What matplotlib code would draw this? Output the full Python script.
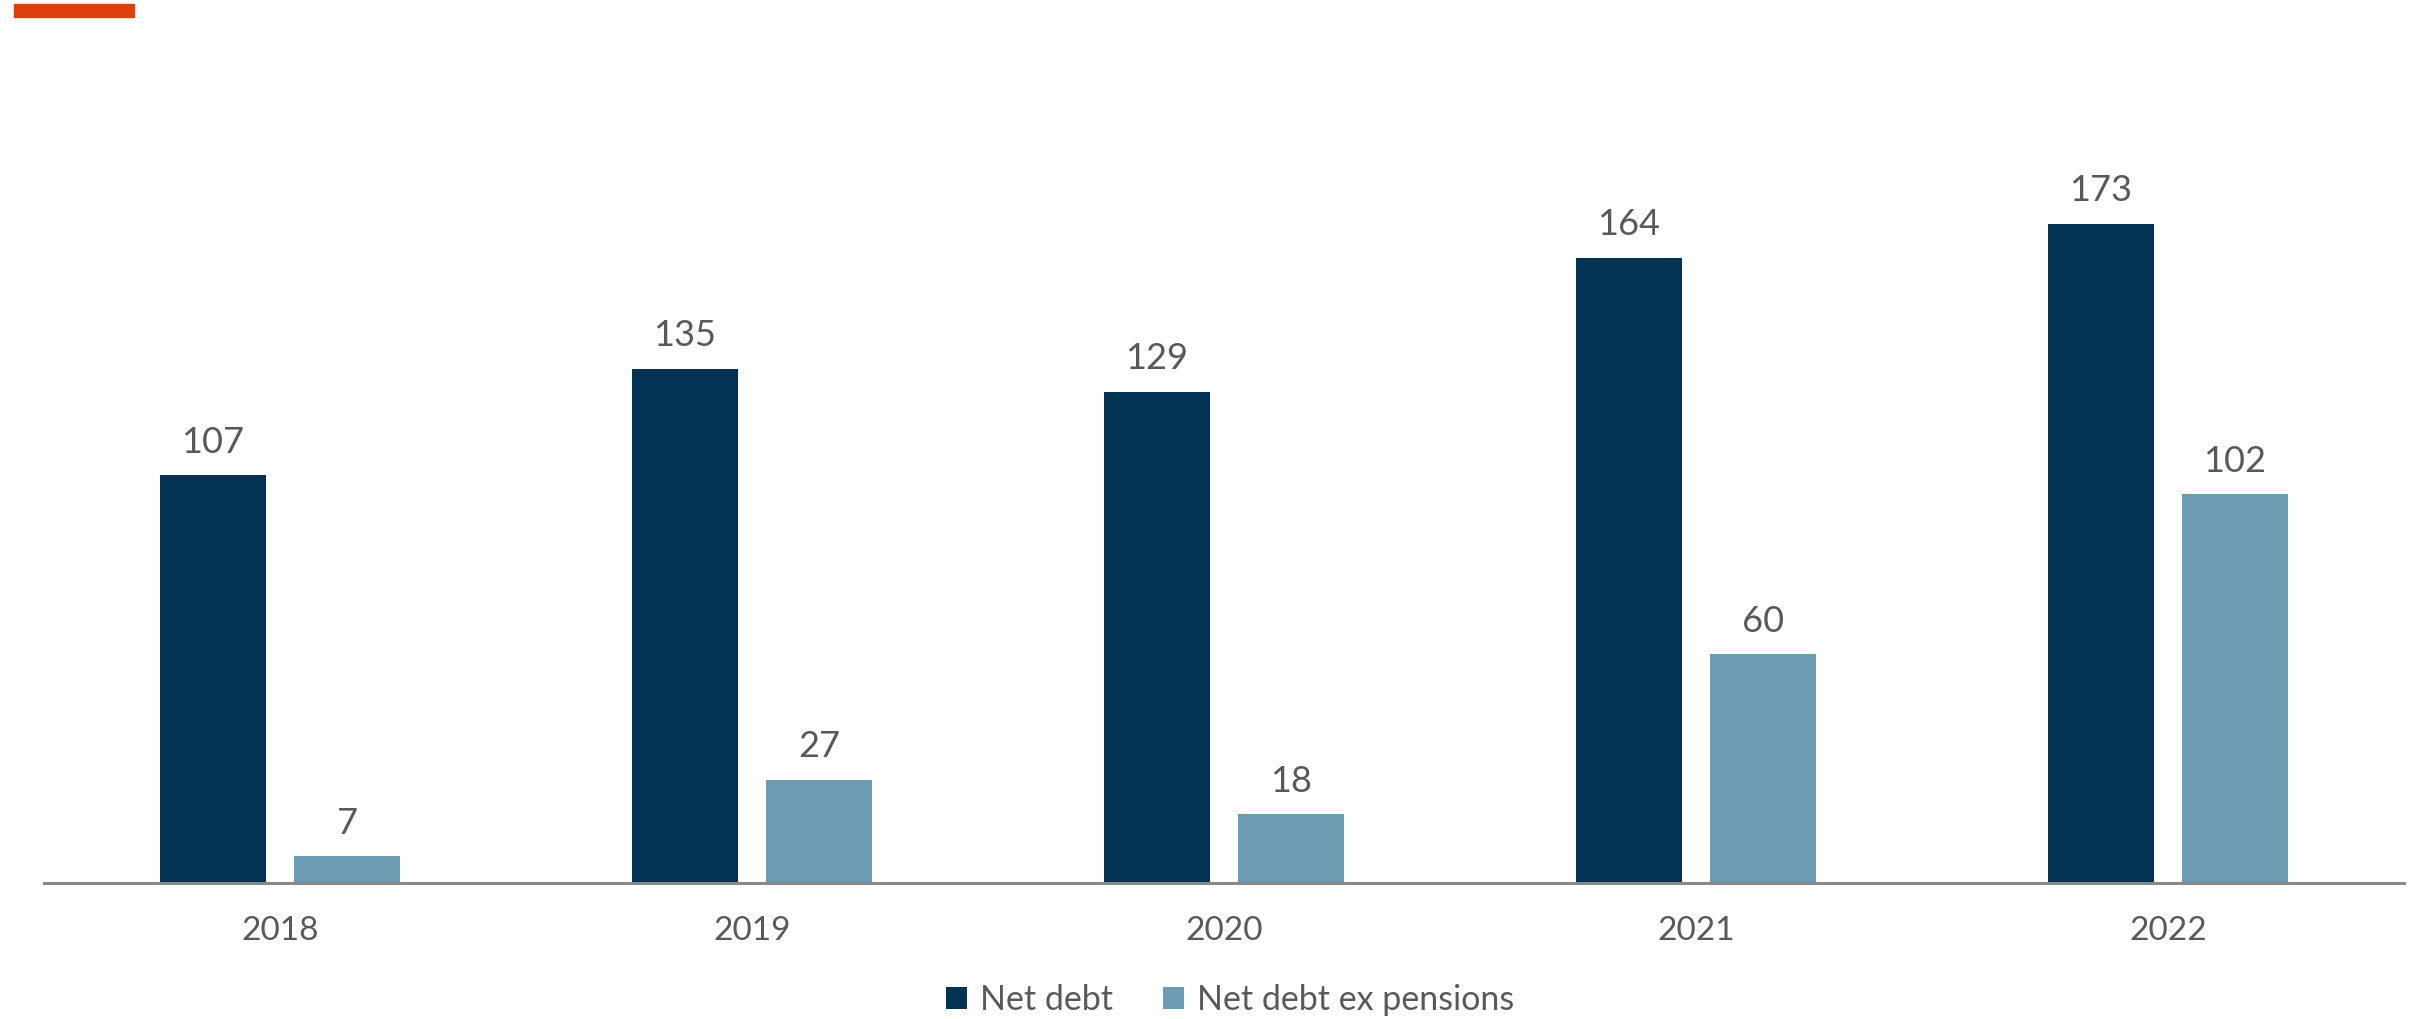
import matplotlib
matplotlib.use("Agg")
import matplotlib.pyplot as plt
from matplotlib.patches import Patch
import numpy as np

years = ["2018", "2019", "2020", "2021", "2022"]
net_debt = [107, 135, 129, 164, 173]
net_debt_ex_pensions = [7, 27, 18, 60, 102]
series_names = ["Net debt", "Net debt ex pensions"]

DARK = "#023354"
LIGHT = "#6d9bb4"
TEXT = "#595959"
ORANGE = "#dd3f0e"

plt.rcParams['font.family'] = ['Lato', 'DejaVu Sans']

W, H = 2414, 1019
fig = plt.figure(figsize=(W / 100, H / 100), dpi=100)

# orange accent bar top-left
fig.patches.append(plt.Rectangle((14 / W, 1 - 17 / H), 120 / W, 13 / H,
                                 transform=fig.transFigure, color=ORANGE, zorder=5))

ax_left, ax_right = 44, 2404
ax_bottom, ax_top = 883, 121
ax = fig.add_axes([ax_left / W, 1 - ax_bottom / H, (ax_right - ax_left) / W, (ax_bottom - ax_top) / H])

x = np.arange(len(years))
bw = 0.2246
off = 0.142
b1 = ax.bar(x - off, net_debt, bw, color=DARK, label=series_names[0])
b2 = ax.bar(x + off, net_debt_ex_pensions, bw, color=LIGHT, label=series_names[1])
for bars in (b1, b2):
    ax.bar_label(bars, padding=12, fontsize=26, color=TEXT)

ax.set_xlim(-0.5, len(years) - 0.5)
ax.set_ylim(0, 200)
ax.set_xticks(x)
ax.set_xticklabels(years, fontsize=24, color=TEXT)
ax.tick_params(axis='x', length=0, pad=24)
ax.set_yticks([])
for s in ("left", "right", "top"):
    ax.spines[s].set_visible(False)
ax.spines["bottom"].set_color("#898989")
ax.spines["bottom"].set_linewidth(2.2)

handles = [Patch(facecolor=DARK, label=series_names[0]),
           Patch(facecolor=LIGHT, label=series_names[1])]
fig.legend(handles=handles, loc="center", bbox_to_anchor=(1230 / W, 1 - 1000 / H),
           ncol=2, frameon=False, fontsize=24.5, labelcolor=TEXT,
           handlelength=0.62, handleheight=0.62, handletextpad=0.38, columnspacing=1.45)

fig.savefig("out.png", dpi=100)
